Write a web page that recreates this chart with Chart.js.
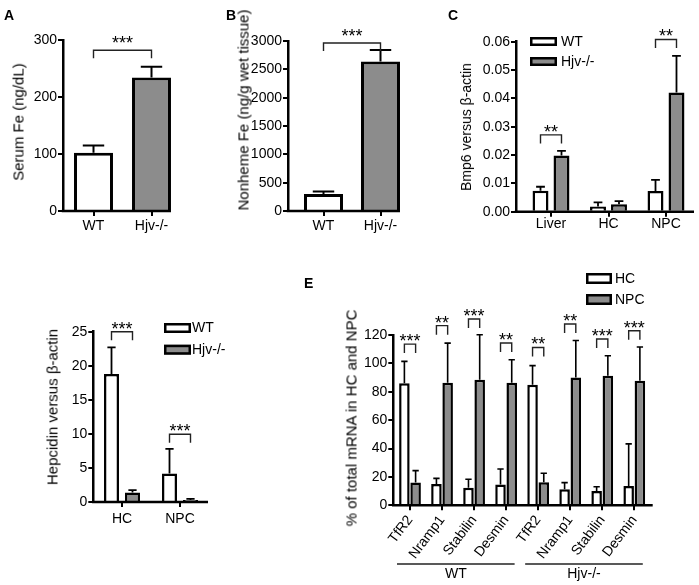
<!DOCTYPE html>
<html><head><meta charset="utf-8">
<script src="https://cdn.jsdelivr.net/npm/chart.js@4.4.1/dist/chart.umd.min.js"></script>
<style>
html,body{margin:0;padding:0;background:#fff;}
#wrap{position:relative;width:699px;height:585px;overflow:hidden;font-family:"Liberation Sans",Arial,sans-serif;color:#000;}
canvas{position:absolute;left:0;top:0;}
.lbl{position:absolute;font-weight:bold;font-size:14px;line-height:1;}
.yt{position:absolute;font-size:15px;white-space:nowrap;transform:translate(-50%,-50%) rotate(-90deg);line-height:1;}
</style></head><body>
<div id="wrap">
<canvas id="cA" width="699" height="585"></canvas>
<canvas id="cB" width="699" height="585"></canvas>
<canvas id="cC" width="699" height="585"></canvas>
<canvas id="cD" width="699" height="585"></canvas>
<canvas id="cE" width="699" height="585"></canvas>
<div class="lbl" style="left:4px;top:8px">A</div>
<div class="lbl" style="left:226px;top:8px">B</div>
<div class="lbl" style="left:448px;top:8px">C</div>
<div class="lbl" style="left:304px;top:276px">E</div>
<div class="yt" style="left:18px;top:122px">Serum Fe (ng/dL)</div>
<div class="yt" style="left:243px;top:110px">Nonheme Fe (ng/g wet tissue)</div>
<div class="yt" style="left:466px;top:127px;font-size:14px">Bmp6 versus β-actin</div>
<div class="yt" style="left:52px;top:407px">Hepcidin versus β-actin</div>
<div class="yt" style="left:351px;top:418px">% of total mRNA in HC and NPC</div>
</div>
<script>
const FONT = '"Liberation Sans", Arial, Helvetica, sans-serif';
Chart.defaults.font.family = FONT;
Chart.defaults.color = '#000';
const GREY = '#8c8c8c';
const WHITE = '#ffffff';

// ---- Panel A: serum iron ----
const aCategories = ['WT', 'Hjv-/-'];
const serumFe = [102, 234];
const serumFeErr = [13, 19];
const aTicks = [0, 100, 200, 300];

// ---- Panel B: nonheme liver iron ----
const bCategories = ['WT', 'Hjv-/-'];
const nonhemeFe = [300, 2640];
const nonhemeFeErr = [45, 200];
const bTicks = [0, 500, 1000, 1500, 2000, 2500, 3000];

// ---- Panel C: Bmp6 ----
const cCategories = ['Liver', 'HC', 'NPC'];
const bmp6WT = [0.0074, 0.0018, 0.0073];
const bmp6WTErr = [0.0014, 0.0015, 0.0039];
const bmp6Hjv = [0.0198, 0.0026, 0.0421];
const bmp6HjvErr = [0.0017, 0.0011, 0.0129];
const cTicks = [0, 0.01, 0.02, 0.03, 0.04, 0.05, 0.06];

// ---- Panel D: hepcidin ----
const dCategories = ['HC', 'NPC'];
const hepcWT = [18.8, 4.2];
const hepcWTErr = [3.9, 3.6];
const hepcHjv = [1.4, 0.3];
const hepcHjvErr = [0.35, 0.15];
const dTicks = [0, 5, 10, 15, 20, 25];

// ---- Panel E: % of total mRNA ----
const eCategories = ['TfR2', 'Nramp1', 'Stabilin', 'Desmin', 'TfR2', 'Nramp1', 'Stabilin', 'Desmin'];
const eGroups = ['WT', 'Hjv-/-'];
const eHC = [86, 15, 12.4, 14.6, 85, 11.3, 10.1, 13.6];
const eHCErr = [15.4, 4, 6, 11, 13.4, 4.7, 3, 29.7];
const eNPC = [16, 86.3, 88.4, 86.3, 16.2, 90.1, 91.3, 87.8];
const eNPCErr = [8.4, 28, 31.8, 16.3, 6.4, 26, 14.1, 23.7];
const eTicks = [0, 20, 40, 60, 80, 100, 120];
const eBracketLevels = [113.6, 126.6, 131.3, 114.4, 111.2, 127.8, 117.2, 123.0];
const eStars = ['***', '**', '***', '**', '**', '**', '***', '***'];

const YW = 60;

function prismPlugin(spec) {
  return {
    id: 'prism_' + spec.id,
    afterDatasetsDraw(chart) {
      const ctx = chart.ctx, ys = chart.scales.y, xs = chart.scales.x, area = chart.chartArea;
      ctx.save();
      ctx.strokeStyle = '#000';
      ctx.lineCap = 'butt';
      // error bars
      chart.data.datasets.forEach((ds, di) => {
        const meta = chart.getDatasetMeta(di);
        meta.data.forEach((bar, i) => {
          const v = ds.data[i].y, e = ds.errors[i];
          const y0 = ys.getPixelForValue(v), y1 = ys.getPixelForValue(v + e);
          const cw = bar.width * spec.capFrac;
          ctx.lineWidth = spec.errW;
          ctx.beginPath();
          ctx.moveTo(bar.x, y0); ctx.lineTo(bar.x, y1);
          ctx.moveTo(bar.x - cw / 2, y1); ctx.lineTo(bar.x + cw / 2, y1);
          ctx.stroke();
        });
      });
      // x axis line
      const y0 = ys.getPixelForValue(0);
      ctx.lineWidth = spec.axisW;
      ctx.beginPath();
      ctx.moveTo(area.left - spec.axisW / 2, y0);
      ctx.lineTo(xs.getPixelForValue(spec.xEnd), y0);
      ctx.stroke();
      // brackets
      (spec.brackets || []).forEach(br => {
        const ba = chart.getDatasetMeta(br.a[0]).data[br.a[1]];
        const bb = chart.getDatasetMeta(br.b[0]).data[br.b[1]];
        const yl = ys.getPixelForValue(br.level);
        ctx.lineWidth = 1.4;
        ctx.strokeStyle = '#222';
        ctx.beginPath();
        ctx.moveTo(ba.x, yl + spec.drop); ctx.lineTo(ba.x, yl); ctx.lineTo(bb.x, yl); ctx.lineTo(bb.x, yl + spec.drop);
        ctx.stroke();
        ctx.fillStyle = '#000';
        ctx.font = '18px ' + FONT;
        ctx.textAlign = 'center';
        ctx.textBaseline = 'alphabetic';
        ctx.fillText(br.text, (ba.x + bb.x) / 2, yl + spec.starOff);
      });
      // legend
      if (spec.legend) {
        const L = spec.legend;
        chart.data.datasets.forEach((ds, di) => {
          const bx = L.x, by = L.y + di * L.gap, lw = 2.5;
          ctx.fillStyle = ds.backgroundColor;
          ctx.fillRect(bx, by, L.w, L.h);
          ctx.strokeStyle = '#000';
          ctx.lineWidth = lw;
          ctx.strokeRect(bx + lw / 2, by + lw / 2, L.w - lw, L.h - lw);
          ctx.fillStyle = '#000';
          ctx.font = '14px ' + FONT;
          ctx.textAlign = 'left';
          ctx.textBaseline = 'middle';
          ctx.fillText(ds.label, L.tx, by + L.h / 2 + 0.5);
        });
      }
      // group labels under rotated ticks
      if (spec.groups) {
        spec.groups.forEach(g => {
          const xa = xs.getPixelForValue(g.from) - 13, xb = xs.getPixelForValue(g.to) + 8.5;
          ctx.strokeStyle = '#222';
          ctx.lineWidth = 1.4;
          ctx.beginPath();
          ctx.moveTo(xa, spec.groupLineY); ctx.lineTo(xb, spec.groupLineY);
          ctx.stroke();
          ctx.fillStyle = '#000';
          ctx.font = '14px ' + FONT;
          ctx.textAlign = 'center';
          ctx.textBaseline = 'middle';
          ctx.fillText(g.label, (xa + xb) / 2, spec.groupTextY);
        });
      }
      ctx.restore();
    }
  };
}

function makeChart(spec) {
  const a = spec.area;
  const XH = spec.xh || 40;
  const xMin = -(spec.c0 - a.left) / spec.sp;
  const xMax = xMin + (a.right - a.left) / spec.sp;
  const rot = spec.rotation || 0;
  return new Chart(document.getElementById(spec.id), {
    type: 'bar',
    data: {
      datasets: spec.datasets.map(d => ({
        label: d.label,
        data: d.data.map((v, i) => ({ x: i, y: v })),
        errors: d.err,
        backgroundColor: d.color,
        borderColor: '#000',
        borderWidth: spec.borderW,
        borderSkipped: 'start',
        categoryPercentage: spec.catPct,
        barPercentage: spec.barPct
      }))
    },
    options: {
      responsive: false,
      animation: false,
      events: [],
      layout: { padding: { left: a.left - YW, top: a.top, right: 699 - a.right, bottom: 585 - a.bottom - XH } },
      plugins: { legend: { display: false }, tooltip: { enabled: false } },
      scales: {
        x: {
          type: 'linear', min: xMin, max: xMax, offset: false, bounds: 'data',
          afterBuildTicks: s => { s.ticks = spec.categories.map((c, i) => ({ value: i })); },
          afterFit: s => { s.height = XH; },
          ticks: { callback: v => spec.categories[v], autoSkip: false, font: { size: 14 }, color: '#000',
                   padding: spec.xPad, minRotation: rot, maxRotation: rot },
          grid: { display: true, drawOnChartArea: false, drawTicks: true, tickLength: 5, lineWidth: 2, color: '#000', offset: false },
          border: { display: false }
        },
        y: {
          type: 'linear', min: spec.yTicks[0], max: spec.yTicks[spec.yTicks.length - 1],
          afterBuildTicks: s => { s.ticks = spec.yTicks.map(v => ({ value: v })); },
          afterFit: s => { s.width = YW; },
          ticks: { callback: v => spec.yFmt(v), font: { size: 14 }, color: '#000', padding: 1 },
          grid: { display: true, drawOnChartArea: false, drawTicks: true, tickLength: 5, lineWidth: 2, color: '#000' },
          border: { display: true, width: spec.axisW, color: '#000' }
        }
      }
    },
    plugins: [prismPlugin(spec)]
  });
}

// Panel A
makeChart({
  id: 'cA', categories: aCategories,
  datasets: [{ label: 'Serum Fe', data: serumFe, err: serumFeErr, color: [WHITE, GREY] }],
  yTicks: aTicks, yFmt: v => String(v),
  area: { left: 63, top: 40, right: 200, bottom: 211 }, c0: 93.5, sp: 58,
  catPct: 1, barPct: 0.672, borderW: 3, errW: 2, capFrac: 0.55, axisW: 2.5,
  xEnd: 1.336, xPad: 2, drop: 8, starOff: -1,
  brackets: [{ a: [0, 0], b: [0, 1], level: 282, text: '***' }]
});

// Panel B
makeChart({
  id: 'cB', categories: bCategories,
  datasets: [{ label: 'Nonheme Fe', data: nonhemeFe, err: nonhemeFeErr, color: [WHITE, GREY] }],
  yTicks: bTicks, yFmt: v => String(v),
  area: { left: 288, top: 41, right: 440, bottom: 211 }, c0: 323.5, sp: 57,
  catPct: 1, barPct: 0.684, borderW: 3, errW: 2, capFrac: 0.55, axisW: 2.5,
  xEnd: 1.342, xPad: 2, drop: 8, starOff: -1,
  brackets: [{ a: [0, 0], b: [0, 1], level: 2965, text: '***' }]
});

// Panel C
makeChart({
  id: 'cC', categories: cCategories,
  datasets: [
    { label: 'WT', data: bmp6WT, err: bmp6WTErr, color: WHITE },
    { label: 'Hjv-/-', data: bmp6Hjv, err: bmp6HjvErr, color: GREY }
  ],
  yTicks: cTicks, yFmt: v => v.toFixed(2),
  area: { left: 516, top: 41.7, right: 699, bottom: 211.7 }, c0: 551, sp: 57.5,
  catPct: 0.73, barPct: 0.76, borderW: 2.5, errW: 1.8, capFrac: 0.55, axisW: 2.5,
  xEnd: 2.487, xPad: -1, drop: 8.5, starOff: 3,
  legend: { x: 530, y: 37, w: 27, h: 9, gap: 20, tx: 561 },
  brackets: [
    { a: [0, 0], b: [1, 0], level: 0.0271, text: '**' },
    { a: [0, 2], b: [1, 2], level: 0.0608, text: '**' }
  ]
});

// Panel D
makeChart({
  id: 'cD', categories: dCategories,
  datasets: [
    { label: 'WT', data: hepcWT, err: hepcWTErr, color: WHITE },
    { label: 'Hjv-/-', data: hepcHjv, err: hepcHjvErr, color: GREY }
  ],
  yTicks: dTicks, yFmt: v => String(v),
  area: { left: 93.3, top: 331.7, right: 240, bottom: 502 }, c0: 122, sp: 58,
  catPct: 0.724, barPct: 0.714, borderW: 2.5, errW: 1.8, capFrac: 0.55, axisW: 2.5,
  xEnd: 1.483, xPad: 4, drop: 8.5, starOff: 3,
  legend: { x: 164, y: 323, w: 27, h: 10, gap: 21.7, tx: 192 },
  brackets: [
    { a: [0, 0], b: [1, 0], level: 25, text: '***' },
    { a: [0, 1], b: [1, 1], level: 9.95, text: '***' }
  ]
});

// Panel E
makeChart({
  id: 'cE', categories: eCategories,
  datasets: [
    { label: 'HC', data: eHC, err: eHCErr, color: WHITE },
    { label: 'NPC', data: eNPC, err: eNPCErr, color: GREY }
  ],
  yTicks: eTicks, yFmt: v => String(v),
  area: { left: 393.3, top: 335, right: 660, bottom: 505.3 }, c0: 410, sp: 32.04, xh: 76,
  catPct: 0.70, barPct: 0.94, borderW: 2.5, errW: 1.6, capFrac: 0.6, axisW: 2.5,
  xEnd: 7.575, xPad: 2, rotation: 53, drop: 9, starOff: 3,
  legend: { x: 586, y: 273, w: 26, h: 11, gap: 21, tx: 615 },
  brackets: eBracketLevels.map((lv, i) => ({ a: [0, i], b: [1, i], level: lv, text: eStars[i] })),
  groups: [{ label: eGroups[0], from: 0, to: 3 }, { label: eGroups[1], from: 4, to: 7 }],
  groupLineY: 564, groupTextY: 574
});
</script>
</body></html>
